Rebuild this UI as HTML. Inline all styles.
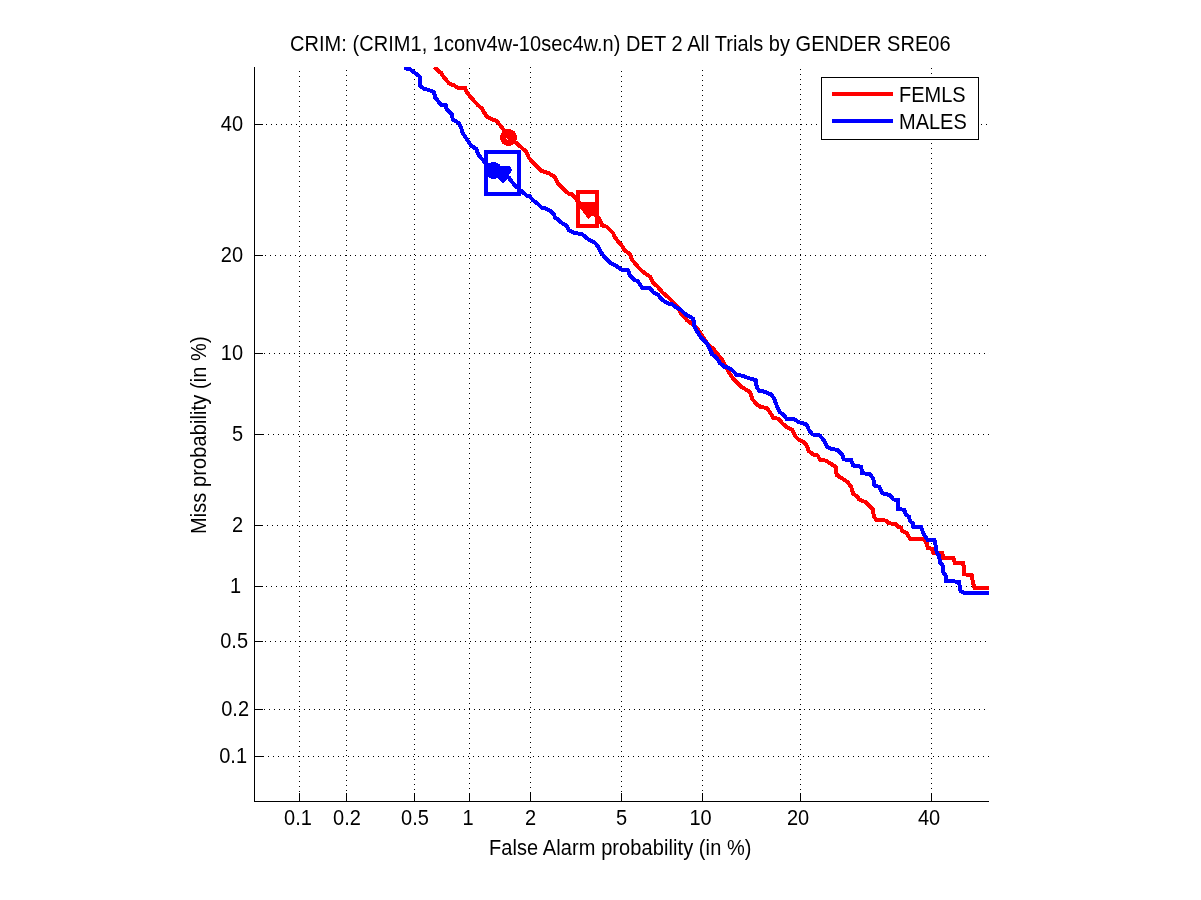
<!DOCTYPE html><html><head><meta charset="utf-8"><style>html,body{margin:0;padding:0;background:#fff;width:1201px;height:900px;overflow:hidden}svg{display:block;will-change:transform}text{font-family:"Liberation Sans",sans-serif;font-size:20px;fill:#000}</style></head><body>
<svg width="1201" height="900" viewBox="0 0 1201 900">
<rect x="0" y="0" width="1201" height="900" fill="#fff"/>
<defs><pattern id="v0" x="0" y="1" width="1" height="5" patternUnits="userSpaceOnUse"><rect x="0" y="0" width="1" height="1" fill="#000"/></pattern><pattern id="v1" x="0" y="0" width="1" height="5" patternUnits="userSpaceOnUse"><rect x="0" y="0" width="1" height="1" fill="#000"/></pattern><pattern id="v2" x="0" y="4" width="1" height="5" patternUnits="userSpaceOnUse"><rect x="0" y="0" width="1" height="1" fill="#000"/></pattern><pattern id="v3" x="0" y="3" width="1" height="5" patternUnits="userSpaceOnUse"><rect x="0" y="0" width="1" height="1" fill="#000"/></pattern><pattern id="v4" x="0" y="2" width="1" height="5" patternUnits="userSpaceOnUse"><rect x="0" y="0" width="1" height="1" fill="#000"/></pattern><pattern id="v5" x="0" y="1" width="1" height="5" patternUnits="userSpaceOnUse"><rect x="0" y="0" width="1" height="1" fill="#000"/></pattern><pattern id="v6" x="0" y="0" width="1" height="5" patternUnits="userSpaceOnUse"><rect x="0" y="0" width="1" height="1" fill="#000"/></pattern><pattern id="v7" x="0" y="4" width="1" height="5" patternUnits="userSpaceOnUse"><rect x="0" y="0" width="1" height="1" fill="#000"/></pattern><pattern id="v8" x="0" y="3" width="1" height="5" patternUnits="userSpaceOnUse"><rect x="0" y="0" width="1" height="1" fill="#000"/></pattern><pattern id="h0" x="1" y="0" width="5" height="1" patternUnits="userSpaceOnUse"><rect x="0" y="0" width="1" height="1" fill="#000"/></pattern><pattern id="h1" x="0" y="0" width="5" height="1" patternUnits="userSpaceOnUse"><rect x="0" y="0" width="1" height="1" fill="#000"/></pattern><pattern id="h2" x="4" y="0" width="5" height="1" patternUnits="userSpaceOnUse"><rect x="0" y="0" width="1" height="1" fill="#000"/></pattern><pattern id="h3" x="3" y="0" width="5" height="1" patternUnits="userSpaceOnUse"><rect x="0" y="0" width="1" height="1" fill="#000"/></pattern><pattern id="h4" x="2" y="0" width="5" height="1" patternUnits="userSpaceOnUse"><rect x="0" y="0" width="1" height="1" fill="#000"/></pattern><pattern id="h5" x="1" y="0" width="5" height="1" patternUnits="userSpaceOnUse"><rect x="0" y="0" width="1" height="1" fill="#000"/></pattern><pattern id="h6" x="0" y="0" width="5" height="1" patternUnits="userSpaceOnUse"><rect x="0" y="0" width="1" height="1" fill="#000"/></pattern><pattern id="h7" x="4" y="0" width="5" height="1" patternUnits="userSpaceOnUse"><rect x="0" y="0" width="1" height="1" fill="#000"/></pattern><pattern id="h8" x="3" y="0" width="5" height="1" patternUnits="userSpaceOnUse"><rect x="0" y="0" width="1" height="1" fill="#000"/></pattern></defs>
<g shape-rendering="crispEdges"><rect x="299" y="67" width="1" height="734" fill="url(#v0)"/><rect x="346" y="67" width="1" height="734" fill="url(#v1)"/><rect x="414" y="67" width="1" height="734" fill="url(#v2)"/><rect x="469" y="67" width="1" height="734" fill="url(#v3)"/><rect x="530" y="67" width="1" height="734" fill="url(#v4)"/><rect x="621" y="67" width="1" height="734" fill="url(#v5)"/><rect x="702" y="67" width="1" height="734" fill="url(#v6)"/><rect x="800" y="67" width="1" height="734" fill="url(#v7)"/><rect x="931" y="67" width="1" height="734" fill="url(#v8)"/><rect x="255" y="124" width="734" height="1" fill="url(#h0)"/><rect x="255" y="255" width="734" height="1" fill="url(#h1)"/><rect x="255" y="353" width="734" height="1" fill="url(#h2)"/><rect x="255" y="434" width="734" height="1" fill="url(#h3)"/><rect x="255" y="525" width="734" height="1" fill="url(#h4)"/><rect x="255" y="586" width="734" height="1" fill="url(#h5)"/><rect x="255" y="641" width="734" height="1" fill="url(#h6)"/><rect x="255" y="709" width="734" height="1" fill="url(#h7)"/><rect x="255" y="756" width="734" height="1" fill="url(#h8)"/></g>
<g shape-rendering="crispEdges"><rect x="254" y="67" width="1" height="735" fill="#000"/><rect x="254" y="801" width="735" height="1" fill="#000"/><rect x="299" y="793" width="1" height="8" fill="#000"/><rect x="255" y="124" width="8" height="1" fill="#000"/><rect x="346" y="793" width="1" height="8" fill="#000"/><rect x="255" y="255" width="8" height="1" fill="#000"/><rect x="414" y="793" width="1" height="8" fill="#000"/><rect x="255" y="353" width="8" height="1" fill="#000"/><rect x="469" y="793" width="1" height="8" fill="#000"/><rect x="255" y="434" width="8" height="1" fill="#000"/><rect x="530" y="793" width="1" height="8" fill="#000"/><rect x="255" y="525" width="8" height="1" fill="#000"/><rect x="621" y="793" width="1" height="8" fill="#000"/><rect x="255" y="586" width="8" height="1" fill="#000"/><rect x="702" y="793" width="1" height="8" fill="#000"/><rect x="255" y="641" width="8" height="1" fill="#000"/><rect x="800" y="793" width="1" height="8" fill="#000"/><rect x="255" y="709" width="8" height="1" fill="#000"/><rect x="931" y="793" width="1" height="8" fill="#000"/><rect x="255" y="756" width="8" height="1" fill="#000"/></g>
<text transform="translate(243,131) scale(1,1.08)" text-anchor="end">40</text><text transform="translate(243,262) scale(1,1.08)" text-anchor="end">20</text><text transform="translate(243,360) scale(1,1.08)" text-anchor="end">10</text><text transform="translate(243,441) scale(1,1.08)" text-anchor="end">5</text><text transform="translate(243,532) scale(1,1.08)" text-anchor="end">2</text><text transform="translate(241,593) scale(1,1.08)" text-anchor="end">1</text><text transform="translate(248,648) scale(1,1.08)" text-anchor="end">0.5</text><text transform="translate(249,716) scale(1,1.08)" text-anchor="end">0.2</text><text transform="translate(247,763) scale(1,1.08)" text-anchor="end">0.1</text><text transform="translate(298,825) scale(1,1.08)" text-anchor="middle">0.1</text><text transform="translate(347,825) scale(1,1.08)" text-anchor="middle">0.2</text><text transform="translate(415,825) scale(1,1.08)" text-anchor="middle">0.5</text><text transform="translate(468,825) scale(1,1.08)" text-anchor="middle">1</text><text transform="translate(530.5,825) scale(1,1.08)" text-anchor="middle">2</text><text transform="translate(621.5,825) scale(1,1.08)" text-anchor="middle">5</text><text transform="translate(700.5,825) scale(1,1.08)" text-anchor="middle">10</text><text transform="translate(798,825) scale(1,1.08)" text-anchor="middle">20</text><text transform="translate(929,825) scale(1,1.08)" text-anchor="middle">40</text><text transform="translate(290,51) scale(1,1.08)" textLength="660.6" lengthAdjust="spacing">CRIM: (CRIM1, 1conv4w-10sec4w.n) DET 2 All Trials by GENDER SRE06</text><text transform="translate(489,855) scale(1,1.08)" textLength="262.5" lengthAdjust="spacing">False Alarm probability (in %)</text><text transform="translate(206,534) rotate(-90) scale(1,1.08)" textLength="197.6" lengthAdjust="spacing">Miss probability (in %)</text>
<clipPath id="ax"><rect x="254" y="67" width="735" height="734"/></clipPath>
<g clip-path="url(#ax)" shape-rendering="crispEdges"><path d="M436,68.5 L437.7,70.7 L441.2,72.9 L443,76 L446.6,80.4 L449.2,83.6 L453.7,85.3 L459,88.4 L465.2,88 L466.7,92.2 L472.2,98.9 L477.8,105 L481.7,108.3 L486.7,116.7 L492.2,119.4 L496.7,121.1 L502.2,127.8 L508.3,137.2 L516.7,143.3 L526.1,151.7 L528.9,157.8 L533.3,162.8 L541.1,170.6 L548.9,173.3 L554.4,176.7 L557.8,183.3 L563.3,188.9 L568.9,193.9 L572.2,194.4 L576.7,200 L588,210 L597.8,216.7 L600,220 L602.2,225.6 L606.7,226.7 L613.3,233.3 L614.4,236.7 L617.8,241.1 L621.1,244.4 L624.4,250 L630,254.4 L632.2,260 L637.8,266.7 L642.2,271.1 L646.7,274.4 L650,276.7 L653.3,283.3 L657.8,286.7 L662.2,292.2 L668.9,297.8 L673.3,302.2 L677.8,306.7 L681.1,313.3 L686.7,320 L691.1,323.3 L696.7,327.8 L700,332.2 L703.3,337.8 L707.8,344.4 L713.3,348.9 L717.8,354.4 L722.2,360 L725.6,366.7 L728.9,372.2 L733.3,378.9 L738.9,384.4 L741.1,386.7 L746.7,390 L750,392.2 L752.2,398.9 L756.7,404.4 L761.1,407.2 L766.7,407.8 L770,412.2 L773.3,417.8 L778.9,418.9 L782.2,423.3 L787.8,427.8 L792.2,430 L795.6,436.7 L798.9,440 L803.3,441.7 L806.7,445.6 L808.9,451.1 L813.3,454.4 L817.8,455.6 L820,460 L825.6,460.6 L830,463.3 L835.6,466.7 L836.7,475 L841.1,477.8 L847.8,482.2 L851.1,486.7 L853.3,493.9 L857.8,496.7 L858.9,499.4 L865.6,502.2 L868.9,505.6 L872.8,508.9 L873.9,516.7 L876.7,520 L886.7,520.6 L888.9,523.3 L895.6,523.9 L897.8,526.7 L901.1,527.8 L902.2,531.1 L906.7,533.3 L908.9,536.7 L910,538.9 L923.3,538.9 L926.7,543.3 L927.8,547.8 L932.2,548.9 L933.3,552.8 L942.2,553.3 L943.3,557.8 L953.3,558.3 L955,562.8 L963.3,563.3 L964.4,574.4 L971.7,575 L972.8,582.2 L974.4,587.5 L995,587.5" fill="none" stroke="#ff0000" stroke-width="4" stroke-linejoin="miter" stroke-linecap="square"/><path d="M406,68.5 L410.5,69.5 L419.5,76.5 L419.5,85 L423.4,88.4 L430.6,90.7 L434.1,92.4 L435,97.3 L438.6,101.8 L442.1,105.3 L445.7,105.3 L446.6,108.9 L451.9,114.2 L452.8,119.6 L459,123.1 L461.2,127.6 L462.2,132.2 L466.7,138.9 L471.1,145.6 L476.1,148.9 L478.9,155.6 L483.9,161.1 L490,167.8 L501,174 L508.7,177.4 L511.8,181.7 L515.5,186 L519.7,189.6 L524,193.3 L527,195.7 L529.7,196.3 L533,200.3 L538.3,204.3 L541.7,207.7 L545,208.3 L550.3,211 L554.3,215 L555,217.7 L558.3,219.7 L561,222.3 L563.7,224.3 L566.7,225.6 L568.9,230 L574.4,232.8 L582.2,234.4 L587.8,238.9 L595.6,243.3 L598.9,247.8 L600,251.1 L604.4,256.7 L611.1,263.3 L615.6,265.6 L622.2,270 L627.8,270 L630,275.6 L634.4,280 L637.8,281.1 L642.2,287.8 L650,288.3 L653.3,292.2 L657.8,294.4 L662.2,300 L667.8,303.3 L672.2,304.4 L676.7,307.8 L681.1,310 L685.6,314.4 L688.9,316.1 L693.3,318.9 L694.4,326.7 L698.9,334.4 L702.2,338.9 L706.7,343.3 L710,348.9 L712.2,354.4 L716.7,357.8 L720,363.3 L724.4,366.7 L728.9,367.8 L733.3,371.1 L736.7,375 L742.2,375.6 L747.8,377.8 L751.1,378.9 L755.6,380 L756.7,386.7 L758.9,390.6 L764.4,391.7 L771.1,394.4 L774.4,398.9 L776.7,405.6 L780,412.2 L784.4,415.6 L786.7,418.9 L794.4,419.4 L798.9,422.2 L806.7,424.4 L808.9,430 L812.2,434.4 L820,435.6 L824.4,441.1 L827.2,446.7 L831.1,448.9 L837.8,450 L842.2,454.4 L843.9,459.4 L851.1,460 L853.3,465.6 L861.1,466.7 L862.2,473.3 L870,473.9 L873.3,478.9 L874.4,485.6 L878.9,486.7 L882.2,493.3 L890,495 L893.3,499.4 L897.8,500 L898.3,508.9 L904.4,510 L905.6,514.4 L908.9,516.7 L910,521.1 L912.8,523.3 L913.3,526.7 L921.1,527.2 L923.3,533.3 L926.1,537.8 L927.8,540 L934.4,540 L935.6,545.6 L936.7,552.2 L938.9,555.6 L940,562.2 L942.8,565.6 L943.3,572.2 L945.6,575.6 L946.1,581.1 L958.9,581.7 L960.6,591.1 L963.3,592.5 L995,592.5" fill="none" stroke="#0000ff" stroke-width="4" stroke-linejoin="miter" stroke-linecap="square"/><rect x="486" y="152" width="33" height="42" fill="none" stroke="#0000ff" stroke-width="4"/><circle cx="493.5" cy="170.5" r="5" fill="none" stroke="#0000ff" stroke-width="7"/><polygon points="499,166 510,166 512,170.5 509,175 508,178 503,183 499,180 496,176" fill="#0000ff"/><rect x="578" y="192" width="19" height="34" fill="none" stroke="#ff0000" stroke-width="4"/><polygon points="579,202 596,202 596,216 591,216 588.5,219.5 583,212 579,208" fill="#ff0000"/><circle cx="508.5" cy="137.5" r="5.5" fill="none" stroke="#ff0000" stroke-width="6"/></g>
<g shape-rendering="crispEdges"><rect x="821.5" y="77.5" width="157" height="62" fill="#fff" stroke="#000" stroke-width="1"/><rect x="832" y="92" width="61" height="4" fill="#ff0000"/><rect x="832" y="119" width="61" height="4" fill="#0000ff"/></g>
<text transform="translate(899,102) scale(1,1.08)">FEMLS</text>
<text transform="translate(899,129) scale(1,1.08)">MALES</text>
</svg></body></html>
